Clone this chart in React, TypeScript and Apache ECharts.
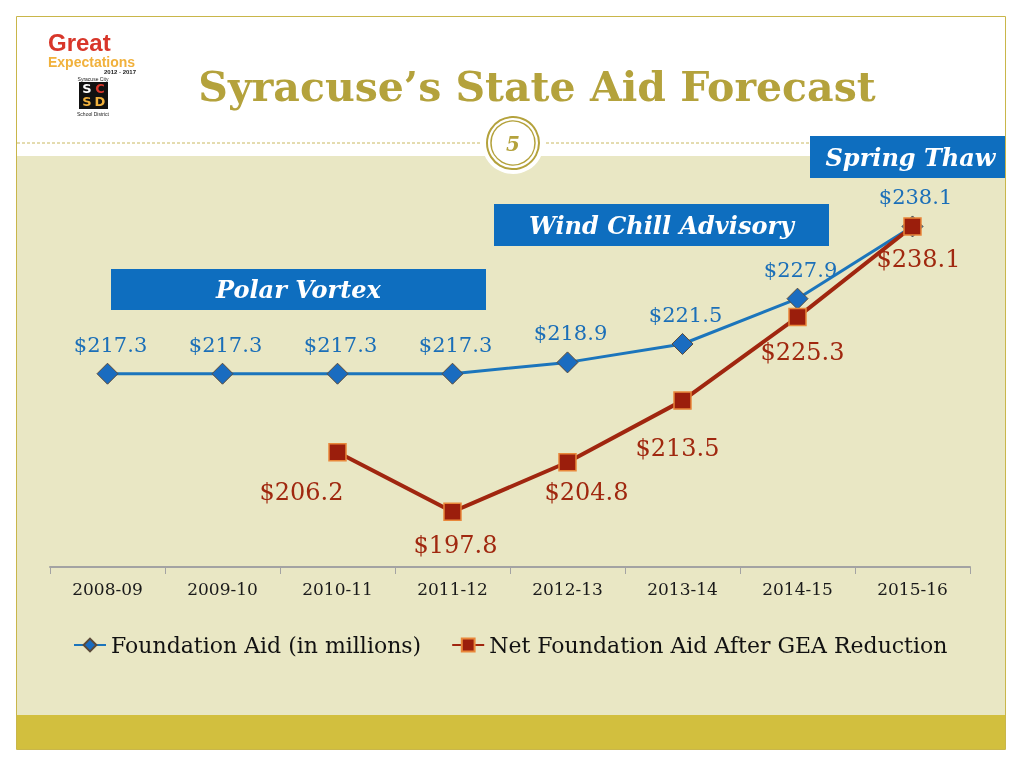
import React, { useEffect, useRef } from 'react';
import * as echarts from 'echarts';

const categories = ['2008-09', '2009-10', '2010-11', '2011-12', '2012-13', '2013-14', '2014-15', '2015-16'];
const foundationAid = [217.3, 217.3, 217.3, 217.3, 218.9, 221.5, 227.9, 238.1];
const netFoundationAid: (number | null)[] = [null, null, 206.2, 197.8, 204.8, 213.5, 225.3, 238.1];
const seriesNames = ['Foundation Aid (in millions)', 'Net Foundation Aid After GEA Reduction'];
const calloutTexts = ['Polar Vortex', 'Wind Chill Advisory', 'Spring Thaw'];
const titleText = 'Syracuse\u2019s State Aid Forecast';
const slideNumber = '5';

// label placement (styling only)
const redLabelOffsets = [[0, 0], [0, 0], [-36, 40], [3, 33], [19, 30], [-5, 47], [5, 35], [6, 33]];
const calloutBoxes = [
  { x: 111, y: 269, w: 375, h: 41 },
  { x: 494, y: 204, w: 335, h: 42 },
  { x: 810, y: 136, w: 195, h: 42 },
];

const SERIF = '"DejaVu Serif", Georgia, serif';
const SANS = '"Liberation Sans", Arial, sans-serif';
const GOLD = '#b4a23c';
const BLUE_BOX = '#0e6ebf';

export default function App() {
  const ref = useRef<HTMLDivElement>(null);
  useEffect(() => {
    if (!ref.current) return;
    const chart = echarts.init(ref.current, undefined, { renderer: 'svg' });
    const fmt = (p: any) => '$' + Number(p.value).toFixed(1);

    const graphics: any[] = [
      { type: 'rect', z: -10, shape: { x: 0, y: 0, width: 1024, height: 768 }, style: { fill: '#ffffff' } },
      { type: 'rect', z: -9, shape: { x: 17, y: 156, width: 988, height: 559 }, style: { fill: '#e9e7c4' } },
      { type: 'rect', z: -9, shape: { x: 17, y: 715, width: 988, height: 35 }, style: { fill: '#d2bf3e' } },
      { type: 'rect', z: -8, shape: { x: 16.5, y: 16.5, width: 989, height: 733 }, style: { fill: 'none', stroke: '#c9b64a', lineWidth: 1 } },
      { type: 'line', z: -8, shape: { x1: 17, y1: 143, x2: 480, y2: 143 }, style: { stroke: '#c9b860', lineWidth: 1, lineDash: [3, 2] } },
      { type: 'line', z: -8, shape: { x1: 546, y1: 143, x2: 1005, y2: 143 }, style: { stroke: '#c9b860', lineWidth: 1, lineDash: [3, 2] } },
      { type: 'circle', z: -7, shape: { cx: 513, cy: 143, r: 31 }, style: { fill: '#ffffff' } },
      { type: 'circle', z: -6, shape: { cx: 513, cy: 143, r: 26 }, style: { fill: 'none', stroke: GOLD, lineWidth: 2 } },
      { type: 'circle', z: -6, shape: { cx: 513, cy: 143, r: 22 }, style: { fill: 'none', stroke: GOLD, lineWidth: 1.5 } },
      { type: 'text', z: -6, x: 513, y: 144, style: { text: slideNumber, fill: GOLD, font: 'italic bold 20px ' + SERIF, align: 'center', verticalAlign: 'middle' } },
      { type: 'text', z: -6, x: 537, y: 87, style: { text: titleText, fill: GOLD, font: 'bold 41px ' + SERIF, align: 'center', verticalAlign: 'middle' } },
      // logo
      { type: 'text', z: -6, x: 48, y: 42, style: { text: 'Great', fill: '#d8362a', font: 'bold 24px ' + SANS, align: 'left', verticalAlign: 'middle' } },
      { type: 'text', z: -6, x: 48, y: 61.5, style: { text: 'Expectations', fill: '#f1b13c', font: 'bold 14px ' + SANS, align: 'left', verticalAlign: 'middle' } },
      { type: 'text', z: -6, x: 136, y: 72, style: { text: '2012 - 2017', fill: '#222', font: 'bold 6px ' + SANS, align: 'right', verticalAlign: 'middle' } },
      { type: 'text', z: -6, x: 93, y: 78.5, style: { text: 'Syracuse City', fill: '#222', font: '5px ' + SANS, align: 'center', verticalAlign: 'middle' } },
      { type: 'rect', z: -6, shape: { x: 79, y: 82, width: 29, height: 27 }, style: { fill: '#111' } },
      { type: 'text', z: -5, x: 87, y: 88.5, style: { text: 'S', fill: '#ffffff', font: 'bold 13px "DejaVu Sans", sans-serif', align: 'center', verticalAlign: 'middle' } },
      { type: 'text', z: -5, x: 100, y: 88.5, style: { text: 'C', fill: '#d8362a', font: 'bold 13px "DejaVu Sans", sans-serif', align: 'center', verticalAlign: 'middle' } },
      { type: 'text', z: -5, x: 87, y: 101.5, style: { text: 'S', fill: '#f1b13c', font: 'bold 13px "DejaVu Sans", sans-serif', align: 'center', verticalAlign: 'middle' } },
      { type: 'text', z: -5, x: 100, y: 101.5, style: { text: 'D', fill: '#f1b13c', font: 'bold 13px "DejaVu Sans", sans-serif', align: 'center', verticalAlign: 'middle' } },
      { type: 'text', z: -6, x: 93, y: 114, style: { text: 'School District', fill: '#222', font: '5px ' + SANS, align: 'center', verticalAlign: 'middle' } },
    ];
    calloutBoxes.forEach((b, i) => {
      graphics.push({ type: 'rect', z: 5, shape: { x: b.x, y: b.y, width: b.w, height: b.h }, style: { fill: BLUE_BOX } });
      graphics.push({ type: 'text', z: 6, x: b.x + b.w / 2 + (i === 2 ? 3 : 0), y: b.y + b.h / 2, style: { text: calloutTexts[i], fill: '#ffffff', font: 'italic bold 24px ' + SERIF, align: 'center', verticalAlign: 'middle' } });
    });

    chart.setOption({
      animation: false,
      backgroundColor: 'transparent',
      graphic: { elements: graphics },
      grid: { left: 50, right: 54, top: 213, bottom: 201 },
      xAxis: {
        type: 'category',
        data: categories,
        boundaryGap: true,
        axisLine: { lineStyle: { color: '#a3a3a3', width: 2 } },
        axisTick: { show: true, length: 7, lineStyle: { color: '#a3a3a3', width: 1 } },
        axisLabel: { color: '#1a1a1a', fontFamily: SERIF, fontSize: 17, margin: 13 },
      },
      yAxis: { type: 'value', min: 190, max: 240, show: false, splitLine: { show: false } },
      legend: {
        data: seriesNames,
        left: 68,
        top: 629,
        itemWidth: 32,
        itemHeight: 16,
        itemGap: 30,
        textStyle: { fontFamily: SERIF, fontSize: 22, color: '#111' },
      },
      series: [
        {
          name: seriesNames[0],
          type: 'line',
          data: foundationAid,
          symbol: 'diamond',
          symbolSize: 21,
          lineStyle: { color: '#1b75bc', width: 3 },
          itemStyle: { color: '#1a6cc0', borderColor: '#5a4a3a', borderWidth: 1 },
          label: {
            show: true,
            position: 'inside',
            offset: [3, -29],
            formatter: fmt,
            color: '#1b6fb8',
            fontFamily: SERIF,
            fontSize: 21,
          },
          z: 3,
        },
        {
          name: seriesNames[1],
          type: 'line',
          data: netFoundationAid.map((v, i) => (v == null ? '-' : { value: v, label: { offset: redLabelOffsets[i] } })),
          symbol: 'rect',
          symbolSize: 17,
          lineStyle: { color: '#a0260f', width: 4 },
          itemStyle: { color: '#9b1e0c', borderColor: '#e9873a', borderWidth: 1.5 },
          label: {
            show: true,
            position: 'inside',
            formatter: fmt,
            color: '#a0280f',
            fontFamily: SERIF,
            fontSize: 24,
          },
          z: 4,
        },
      ],
    });
    return () => chart.dispose();
  }, []);
  return <div ref={ref} style={{ position: 'fixed', left: 0, top: 0, width: 1024, height: 768 }} />;
}
